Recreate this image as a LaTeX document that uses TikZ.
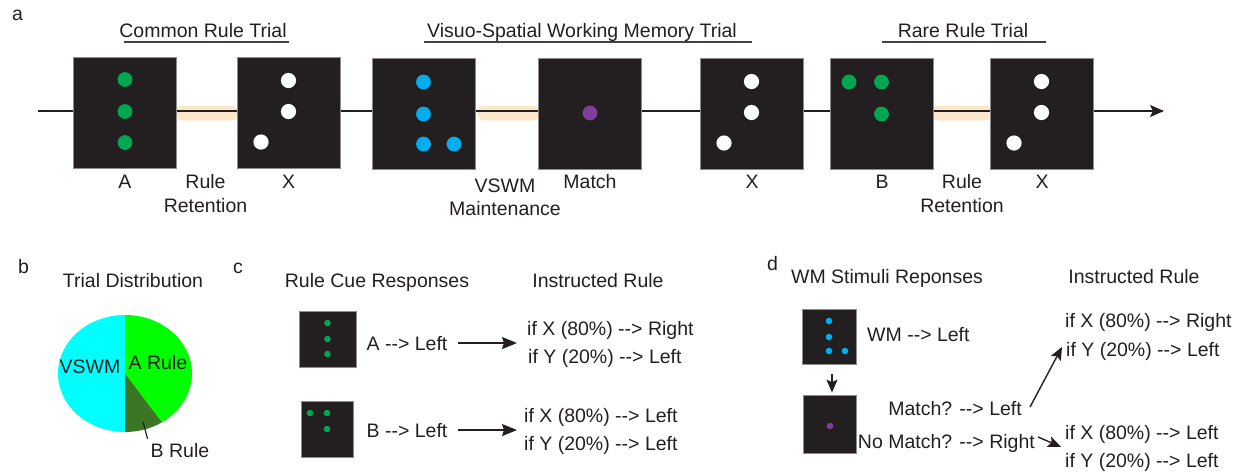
\documentclass[tikz,border=0pt]{standalone}
\usepackage{fontspec}
\setmainfont{Liberation Sans}[Ligatures=TeXOff]
\usetikzlibrary{arrows.meta}

\definecolor{screen}{HTML}{231F20}
\definecolor{screenedge}{HTML}{8C8C8C}
\definecolor{cuegreen}{HTML}{00A651}
\definecolor{wmblue}{HTML}{00AEEF}
\definecolor{matchpurple}{HTML}{7F3F98}
\definecolor{hold}{HTML}{FCE7CC}
\definecolor{ink}{HTML}{231F20}
\definecolor{pieA}{HTML}{00FF00}
\definecolor{pieB}{HTML}{3A7623}
\definecolor{pieV}{HTML}{00FFFF}
\newcommand\labfont{\fontsize{19.5}{23.5}\selectfont}

\pgfdeclarelayer{back}
\pgfsetlayers{back,main}

\begin{document}
\begin{tikzpicture}[x=1pt,y=-1pt,
  every node/.style={font=\labfont, inner sep=0pt, text=ink},
  lbl/.style={anchor=base},
  lblw/.style={anchor=base west},
  lble/.style={anchor=base east},
  bigscreen/.style={rectangle, fill=screen, draw=screenedge, line width=0.8pt,
    minimum width=103pt, minimum height=111pt},
  smallscreen/.style={rectangle, fill=screen, draw=screenedge, line width=0.7pt,
    minimum width=55pt, minimum height=56pt},
  timeline/.style={draw=ink, line width=1.4pt},
  titlerule/.style={draw=ink!85, line width=1.3pt},
  cuearrow/.style={draw=ink, line width=1.5pt, -{Stealth[length=15pt,width=12pt,inset=2pt]}},
  smallarrow/.style={draw=ink, line width=1.4pt, -{Stealth[length=13pt,width=11pt,inset=2.5pt]}},
]
\useasboundingbox (0,0) rectangle (1242,472);

% ---------------- a: trial sequence ----------------
\node[lblw] (la) at (12,20) {a};

\node[lbl] (tCommon) at (203,37) {Common Rule Trial};
\node[lbl] (tVswm) at (582,37) {Visuo-Spatial Working Memory Trial};
\node[lbl] (tRare) at (963,37) {Rare Rule Trial};
\draw[titlerule] ([shift={(5,5)}]tCommon.base west) -- ([shift={(2,5)}]tCommon.base east);
\draw[titlerule] ([shift={(-3,5)}]tVswm.base west) -- ([shift={(15,5)}]tVswm.base east);
\draw[titlerule] ([shift={(-16,5)}]tRare.base west) -- ([shift={(18,5)}]tRare.base east);

\node[bigscreen] (sA)  at (125,112.5) {};
\node[bigscreen] (sX1) at (288.5,112.5) {};
\node[bigscreen] (sW)  at (423.5,113.5) {};
\node[bigscreen] (sM)  at (589.5,113.5) {};
\node[bigscreen] (sX2) at (751.5,113.5) {};
\node[bigscreen] (sB)  at (881.5,113.5) {};
\node[bigscreen] (sX3) at (1041.5,113.5) {};

\coordinate (tstart) at (38,111);
\coordinate (tend) at (1164,111);
\begin{pgfonlayer}{back}
  \fill[hold, rounded corners=7.5pt] ([shift={(-2,-7)}]sA.east) rectangle ([shift={(2,8)}]sX1.west);
  \fill[hold, rounded corners=7.5pt] ([shift={(2,-8)}]sW.east) rectangle ([shift={(2,7)}]sM.west);
  \fill[hold, rounded corners=7.5pt] ([shift={(-2,-8)}]sB.east) rectangle ([shift={(3,7)}]sX3.west);
  \draw[timeline, -{Stealth[length=14pt,width=12pt,inset=3pt]}] (tstart) -- (tend);
\end{pgfonlayer}

% rule cue A
\foreach \dy in {-33,-1,30}
  \fill[cuegreen] ([shift={(0,\dy)}]sA.center) circle[radius=7.4pt];
% probe X
\foreach \s in {sX1,sX2,sX3} {
  \fill[white] ([shift={(0,-32)}]\s.center) circle[radius=7.6pt];
  \fill[white] ([shift={(0,-1)}]\s.center) circle[radius=7.6pt];
  \fill[white] ([shift={(-27.5,29.5)}]\s.center) circle[radius=7.6pt];
}
% working-memory sample
\foreach \p in {(0,-31.5),(0,0.5),(0,30.5),(30.5,30.5)}
  \fill[wmblue] ([shift={\p}]sW.center) circle[radius=7.4pt];
% match probe
\fill[matchpurple] ([shift={(0.5,-0.5)}]sM.center) circle[radius=7.4pt];
% rule cue B
\foreach \p in {(-32.5,-31.5),(0,-31.5),(0,0.5)}
  \fill[cuegreen] ([shift={\p}]sB.center) circle[radius=7.4pt];

\node[lbl] (nA)   at (125,188) {A};
\node[lbl] (nR1)  at (205.5,188) {Rule};
\node[lbl] (nRt1) at (205.5,212) {Retention};
\node[lbl] (nX1)  at (288.5,188) {X};
\node[lbl] (nV)   at (505,192) {VSWM};
\node[lbl] (nVm)  at (505,215) {Maintenance};
\node[lbl] (nM)   at (590,188) {Match};
\node[lbl] (nX2)  at (752,188) {X};
\node[lbl] (nB)   at (882,188) {B};
\node[lbl] (nR2)  at (962,188) {Rule};
\node[lbl] (nRt2) at (962,212) {Retention};
\node[lbl] (nX3)  at (1042,188) {X};

% ---------------- b: trial distribution ----------------
\node[lblw] (lb) at (18,273) {b};
\node[lbl] (tDist) at (133,287) {Trial Distribution};
\coordinate (pie) at (125,373.5);
\fill[pieV] (pie) -- ++(0,58.5) arc[start angle=90, end angle=270, x radius=67, y radius=58.5] -- cycle;
\fill[pieA] (pie) -- ++(0,-58.5) arc[start angle=-90, end angle=56.6, x radius=67, y radius=58.5] -- cycle;
\fill[pieB] (pie) -- ++({67*cos(56.6)},{58.5*sin(56.6)}) arc[start angle=56.6, end angle=90, x radius=67, y radius=58.5] -- cycle;
\node[lbl] (pV) at (90,373) {VSWM};
\node[lbl] (pA) at (158,369) {A Rule};
\node[lbl] (pB) at (180,457) {B Rule};
\coordinate (bmark) at (143,422);
\draw[ink, line width=1.2pt] (bmark) -- ([shift={(-3,-4)}]pB.north west);

% ---------------- c: rule cue responses ----------------
\node[lblw] (lc) at (233,273) {c};
\node[lbl] (tCue) at (377,287) {Rule Cue Responses};
\node[lbl] (tInstC) at (598,287) {Instructed Rule};

\node[smallscreen, minimum width=57pt] (cA) at (327.5,339) {};
\foreach \dy in {-16,0,15}
  \fill[cuegreen] ([shift={(0,\dy)}]cA.center) circle[radius=3.3pt];
\node[smallscreen, minimum width=52pt] (cB) at (327,429) {};
\foreach \p in {(-17,-16),(0,-16),(0,0)}
  \fill[cuegreen] ([shift={\p}]cB.center) circle[radius=3.3pt];

\node[lbl] (cAl) at (407,350) {A --> Left};
\node[lblw] (cA1) at (527,335) {if X (80\%) --> Right};
\node[lblw] (cA2) at (528,363) {if Y (20\%) --> Left};
\node[lbl] (cBl) at (407,437) {B --> Left};
\node[lblw] (cB1) at (524,422) {if X (80\%) --> Left};
\node[lblw] (cB2) at (524,450) {if Y (20\%) --> Left};
\draw[cuearrow, shorten <=10.5pt, shorten >=10pt] (cAl.east) -- (cAl.east -| cA1.west);
\draw[cuearrow, shorten <=10.5pt, shorten >=7pt] (cBl.east) -- (cBl.east -| cB1.west);

% ---------------- d: working-memory responses ----------------
\node[lblw] (ld) at (767,270) {d};
\node[lbl] (tWm) at (887,283) {WM Stimuli Reponses};
\node[lbl] (tInstD) at (1134,283) {Instructed Rule};

\node[smallscreen, minimum width=54pt, minimum height=55pt] (dW) at (829,336.5) {};
\foreach \p in {(0,-15.5),(0,0.5),(0,14.5),(16,14.5)}
  \fill[wmblue] ([shift={\p}]dW.center) circle[radius=3.3pt];
\node[smallscreen, minimum width=53pt, minimum height=58pt] (dM) at (829.5,424) {};
\fill[matchpurple] ([shift={(0.5,2)}]dM.center) circle[radius=3.3pt];
\draw[smallarrow, shorten <=10pt, shorten >=2pt] ([xshift=3pt]dW.south) -- ([xshift=2.5pt]dM.north);

\node[lblw] (dWl) at (867,341) {WM --> Left};
\node[lble] (dMl) at (1022,415) {Match? --> Left};
\node[lble] (dNl) at (1035,448) {No Match? --> Right};
\node[lblw] (dA1) at (1065,327) {if X (80\%) --> Right};
\node[lblw] (dA2) at (1066,356) {if Y (20\%) --> Left};
\node[lblw] (dB1) at (1065,439) {if X (80\%) --> Left};
\node[lblw] (dB2) at (1065,467) {if Y (20\%) --> Left};
\draw[smallarrow] ([shift={(8,-1)}]dMl.east) -- ([shift={(-4,-4)}]dA2.west);
\draw[smallarrow] ([shift={(3,-6)}]dNl.east) -- ([shift={(-4,13)}]dB1.west);
\end{tikzpicture}
\end{document}
